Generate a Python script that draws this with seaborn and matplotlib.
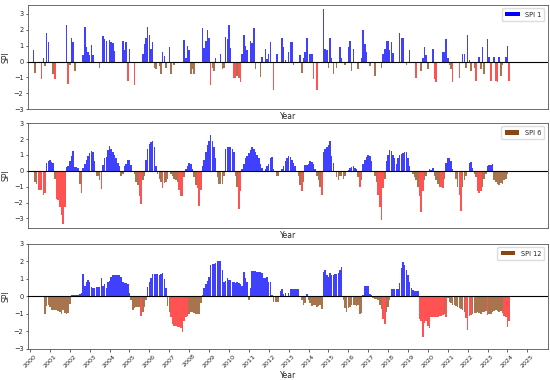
import numpy as np
import pandas as pd
import seaborn as sns
import matplotlib.pyplot as plt
from matplotlib.patches import Patch

sns.set_style("ticks")
plt.rcParams.update({
    "font.family": ["DejaVu Sans"],
    "font.size": 5,
    "axes.linewidth": 0.6,
    "axes.edgecolor": "#555555",
    "xtick.major.size": 1.8,
    "ytick.major.size": 1.8,
    "xtick.major.width": 0.5,
    "ytick.major.width": 0.5,
    "xtick.labelsize": 4.6,
    "ytick.labelsize": 4.8,
})

START_YEAR = 2000
YEAR_TICKS = list(range(2000, 2026))

# monthly SPI values, one row per year (Jan..Dec)
SPI1 = [
    [0, 0, 0.7, -0.7, 0, 0, 0, -1.1, 0.25, -0.3, 1.8, 1.2],
    [0, 0, -0.8, -1.1, 0, 0, 0, 0, 0, -0.1, 2.3, -1.4],
    [-0.2, 1.5, 1.2, -0.6, 0, 0, 0, 0, 0.4, 2.2, 0.9, 0.6],
    [0.4, 1.05, 0.4, -0.1, 0, 0, -0.4, 0, 1.6, 1.45, 1.3, 0],
    [1.35, 1.25, 1.15, 0.65, 0, 0, 0, 0, 1.3, 0.75, 1.25, -1.2],
    [0.8, 0, 0, -1.5, -0.1, 0, 0, 0, 0.45, 1.1, 1.5, 2.15],
    [1.7, 0.8, 1.2, -0.4, -0.5, 0, -0.3, -0.8, 0.6, 0.35, -0.4, 0],
    [0.9, -0.8, 0, -0.2, 0, 0, 0, 0, 0, 1.35, 0.2, 0.95],
    [0.7, -0.8, -0.5, -0.8, 0, 0, 0, -0.1, 2.1, 0.85, 1.3, 2.0],
    [1.5, -1.5, -0.4, -0.6, 0.25, 0, 0, 0.5, -0.5, -0.4, 1.55, 1.4],
    [2.3, 0.85, 0, -1.05, -1.05, -0.9, -1.05, -1.3, 0.45, 1.65, 1.0, 0.7],
    [-0.1, 1.3, 1.15, 2.1, -0.5, 0, 0, -1.0, 0.3, 0, 0.8, 0.15],
    [0.5, 1.2, 0, -1.8, 0, 0.5, 0, 0, 1.5, 0.9, 0.1, 0],
    [0.6, 1.2, 1.2, -0.2, 0, 0, 0, 0.4, -0.7, 0.2, 0.6, 1.5],
    [-0.1, 0.5, 0.5, -1.1, 0, -1.8, 0, -0.05, 0, 3.3, 0.8, 0.7],
    [-0.4, 1.5, 0.2, -0.8, 0, -0.4, 0, 0.9, 0.2, 0, -0.2, 0],
    [0.9, 1.3, -0.6, 0.8, 0, 0, -0.5, 0, 0.2, 2.0, 1.1, 0.6],
    [0, -0.3, 0, 0, -0.9, 0, 0, 0, -0.4, 0.5, 0.8, 1.3],
    [1.3, 0.7, 1.2, 0.55, -0.1, 0, 0, 1.8, 1.5, 1.5, 0, -0.2],
    [0, 0.7, 0, 0, 0, -1.05, 0, 0, -0.6, 0.2, 0.9, 0.4],
    [-0.5, 0, -0.1, 0.8, -1.1, -1.3, 0, -0.1, 0, 0.6, 0.6, 1.4],
    [0.2, -0.2, -0.5, -1.3, 0, 0, 0, -1.05, 0, 0.5, 0.5, -0.4],
    [1.7, 0.1, -0.6, 0, -0.4, -1.2, 0, 0.3, -0.5, 0.9, -0.8, 0],
    [1.4, 0.3, -1.2, 0, 0.3, -1.2, -1.3, 0.3, -0.9, -0.2, 0, 0.3],
    [1.0, -1.2],
]

SPI6 = [
    [0, 0, 0, -0.7, -0.8, -1.2, -1.2, -1.2, -1.5, -1.4, 0.5, 0.6],
    [0.65, 0.55, 0.5, -0.5, -1.8, -1.85, -2.3, -2.8, -3.35, -2.3, 0.25, 0.3],
    [0.6, 0.9, 1.25, 0.25, 0.25, 0.2, -0.8, -1.4, 0.2, 0.4, 0.7, 0.95],
    [1.1, 1.25, 1.2, 0.6, -0.3, -0.3, -0.6, -1.15, 0.35, 0.8, 0.85, 1.3],
    [1.55, 1.4, 1.2, 1.0, 0.8, 0.5, 0.3, -0.3, -0.2, 0.3, 0.4, 0.7],
    [0.7, 0.35, -0.1, -0.2, -0.7, -0.9, -1.6, -2.1, -0.6, -0.3, 0.7, 1.4],
    [1.7, 1.8, 1.85, 1.5, 0.3, -0.2, -0.5, -0.7, -1.1, -0.75, -0.7, -0.5],
    [-0.1, -0.2, -0.3, -0.5, -0.6, -0.7, -1.2, -1.6, -1.6, -0.4, 0.1, 0.3],
    [0.5, 0.45, 0.1, -0.4, -0.9, -1.1, -2.2, -1.2, 0.3, 0.7, 1.2, 1.6],
    [1.9, 2.25, 1.9, 1.5, 0.8, -0.4, -0.8, -0.85, -0.8, -0.3, 1.4, 1.5],
    [1.5, 1.5, 1.4, 1.2, -0.3, -1.0, -2.4, -1.3, 0.1, 0.4, 0.8, 0.9],
    [1.1, 1.3, 1.5, 1.35, 1.2, 1.0, 0.8, 0.4, 0.2, -0.1, 0.1, 0.3],
    [0.4, 0.8, 0.85, 0.1, -0.1, -0.3, -0.35, -0.1, 0.1, 0.3, 0.6, 0.8],
    [0.95, 0.85, 0.7, 0.5, 0.3, -0.1, -0.3, -0.9, -1.3, -0.7, 0.35, 0.35],
    [0.4, 0.6, 0.55, 0.4, 0.1, -0.3, -0.6, -1.0, -1.5, 1.2, 1.35, 1.5],
    [1.6, 1.85, 0.9, 0.5, -0.1, -0.4, -0.55, -0.3, -0.35, -0.5, -0.35, -0.1],
    [0.05, 0.2, 0.25, 0.3, 0.2, 0.1, -0.4, -1.05, -0.6, 0.4, 0.7, 0.85],
    [1.0, 0.95, 0.6, -0.1, -0.3, -0.7, -1.5, -2.3, -3.1, -1.1, -0.5, 0.6],
    [1.0, 1.3, 1.25, 1.0, 0.8, 0.4, 0.8, 1.0, 1.05, 1.15, 1.2, 1.2],
    [0.8, 0.3, -0.1, -0.2, -0.4, -0.6, -1.0, -1.6, -2.6, -1.3, -0.6, -0.3],
    [-0.1, 0.1, 0.05, 0.2, -0.3, -0.6, -0.8, -1.0, -1.05, -1.1, -0.5, 0.5],
    [0.8, 0.8, 0.6, 0.1, -0.1, -0.5, -1.0, -1.5, -2.5, -1.0, -0.6, -0.3],
    [-0.1, 0.5, 0.55, 0.2, -0.2, -0.4, -1.3, -1.4, -1.3, -1.0, -0.5, -0.2],
    [0.3, 0.35, 0.35, 0.4, -0.6, -0.7, -0.8, -0.9, -0.75, -0.8, -0.6, -0.5],
    [-0.2, -0.1],
]

SPI12 = [
    [0, 0, 0, 0, 0, 0, 0, 0, 0, -1.0, -0.55, -0.5],
    [-0.6, -0.8, -0.8, -0.8, -0.8, -0.85, -0.9, -1.0, -0.8, -0.95, -1.0, -0.95],
    [-0.45, 0.1, 0.1, 0.1, 0.1, 0.1, 0.15, 0.2, 1.3, 0.6, 0.8, 0.95],
    [0.8, 0.55, 0.5, 0.5, 0.55, 0.55, 0.55, 1.05, 0.6, 0.7, 0.5, 0.8],
    [0.9, 1.1, 1.2, 1.25, 1.25, 1.25, 1.2, 1.1, 0.8, 0.75, 0.75, 0.7],
    [0.2, -0.2, -0.75, -0.65, -0.6, -0.6, -0.6, -1.1, -0.9, -0.6, -0.2, 0.55],
    [0.85, 1.05, 1.3, 1.3, 1.3, 1.3, 1.25, 1.3, 1.35, 1.0, 0.5, -0.55],
    [-0.9, -1.2, -1.6, -1.7, -1.7, -1.75, -1.75, -1.8, -2.05, -1.4, -1.2, -1.1],
    [-1.0, -0.9, -0.9, -0.95, -1.0, -1.0, -1.0, -0.35, 0.1, 0.5, 0.7, 0.9],
    [1.1, 1.8, 1.85, 1.85, 1.9, 2.0, 2.0, 2.05, 1.5, 0.8, 0.9, 1.05],
    [0.95, 0.95, 0.85, 0.85, 0.75, 0.8, 0.75, 0.7, 0.6, 1.4, 1.05, 0.85],
    [-0.2, 0.5, 1.45, 1.45, 1.45, 1.4, 1.4, 1.4, 1.35, 1.05, 1.05, 1.1],
    [0.85, 0.8, 0.1, -0.3, -0.3, -0.3, -0.3, 0.3, 0.45, 0.15, 0.2, -0.05],
    [0.2, 0.45, 0.45, 0.45, 0.45, 0.45, 0.45, 0.05, -0.2, -0.5, -0.35, 0.15],
    [-0.2, -0.4, -0.55, -0.5, -0.5, -0.6, -0.55, -0.5, -0.7, 1.4, 1.5, 1.2],
    [1.1, 1.35, 1.2, 1.2, 1.3, 1.3, 1.35, 1.5, 1.7, -0.2, -0.65, -0.9],
    [-0.65, -0.6, -0.5, -0.5, -0.5, -0.55, -0.5, -1.0, -0.95, 0.1, 0.6, 0.6],
    [0.6, 0.15, 0.1, -0.1, -0.15, -0.15, -0.2, -0.5, -0.7, -1.3, -1.6, -0.9],
    [-0.6, -0.2, 0.4, 0.4, 0.4, 0.4, 0.4, 0.75, 1.6, 1.95, 1.8, 1.5],
    [1.2, 0.8, 0.5, 0.35, 0.3, 0.3, 0.3, -1.3, -1.4, -2.3, -1.5, -1.4],
    [-1.7, -1.8, -1.2, -1.2, -1.2, -1.15, -1.15, -1.1, -1.1, -1.05, -1.0, -1.2],
    [-0.1, -0.3, -0.4, -0.5, -0.5, -0.55, -0.6, -0.65, -0.7, -0.8, -0.9, -1.25],
    [-1.9, -1.1, -1.05, -1.0, -0.95, -0.95, -0.9, -0.95, -1.0, -0.9, -0.9, -0.85],
    [-1.05, -1.0, -1.0, -0.9, -0.85, -0.8, -0.85, -0.9, -0.85, -0.95, -1.1, -1.2],
    [-1.75, -1.4],
]

PANELS = [
    ("SPI 1", SPI1, (-3, 3.57)),
    ("SPI 6", SPI6, (-3.6, 3.0)),
    ("SPI 12", SPI12, (-3, 3)),
]

PALETTE = {"wet": "#0000ff", "dry": "#8b4513", "severe": "#ff1a1a"}
LEGEND_COLOR = {"SPI 1": "#0000ff", "SPI 6": "#8b4513", "SPI 12": "#8b4513"}

AX_POS = [
    [0.051, 0.713, 0.945, 0.274],
    [0.051, 0.400, 0.945, 0.276],
    [0.051, 0.082, 0.945, 0.276],
]


def to_frame(rows):
    vals = [v for row in rows for v in row]
    df = pd.DataFrame({"spi": vals})
    df["x"] = START_YEAR + np.arange(len(vals)) / 12
    df["cls"] = np.where(df["spi"] > 0, "wet",
                         np.where(df["spi"] < -1.0, "severe", "dry"))
    return df


fig = plt.figure(figsize=(5.5, 3.8), dpi=100)

for i, (label, rows, ylim) in enumerate(PANELS):
    ax = fig.add_axes(AX_POS[i])
    df = to_frame(rows)
    sns.barplot(data=df, x="x", y="spi", hue="cls", palette=PALETTE,
                hue_order=["wet", "dry", "severe"], native_scale=True,
                dodge=False, width=0.92, errorbar=None, legend=False,
                saturation=1, linewidth=0, alpha=0.75, ax=ax)
    ax.axhline(0, color="black", linewidth=0.8, zorder=3)
    ax.set_xlim(1999.9, 2026.03)
    ax.set_ylim(*ylim)
    ax.set_yticks([-3, -2, -1, 0, 1, 2, 3])
    ax.set_ylabel("SPI", fontsize=5.5, labelpad=2)
    ax.set_xlabel("Year", fontsize=5.5, labelpad=2)
    ax.tick_params(axis="both", pad=1.5)
    if i < 2:
        ax.set_xticks([])
    else:
        ax.set_xticks(YEAR_TICKS)
        ax.set_xticklabels([str(y) for y in YEAR_TICKS], rotation=45)
    handle = Patch(facecolor=LEGEND_COLOR[label], edgecolor="none", label=label)
    ax.legend(handles=[handle], loc="upper right", fontsize=4.8,
              handlelength=2.2, handleheight=0.6, borderpad=0.5,
              framealpha=1, edgecolor="#dddddd", fancybox=True)

fig.savefig("out.png", dpi=100)
